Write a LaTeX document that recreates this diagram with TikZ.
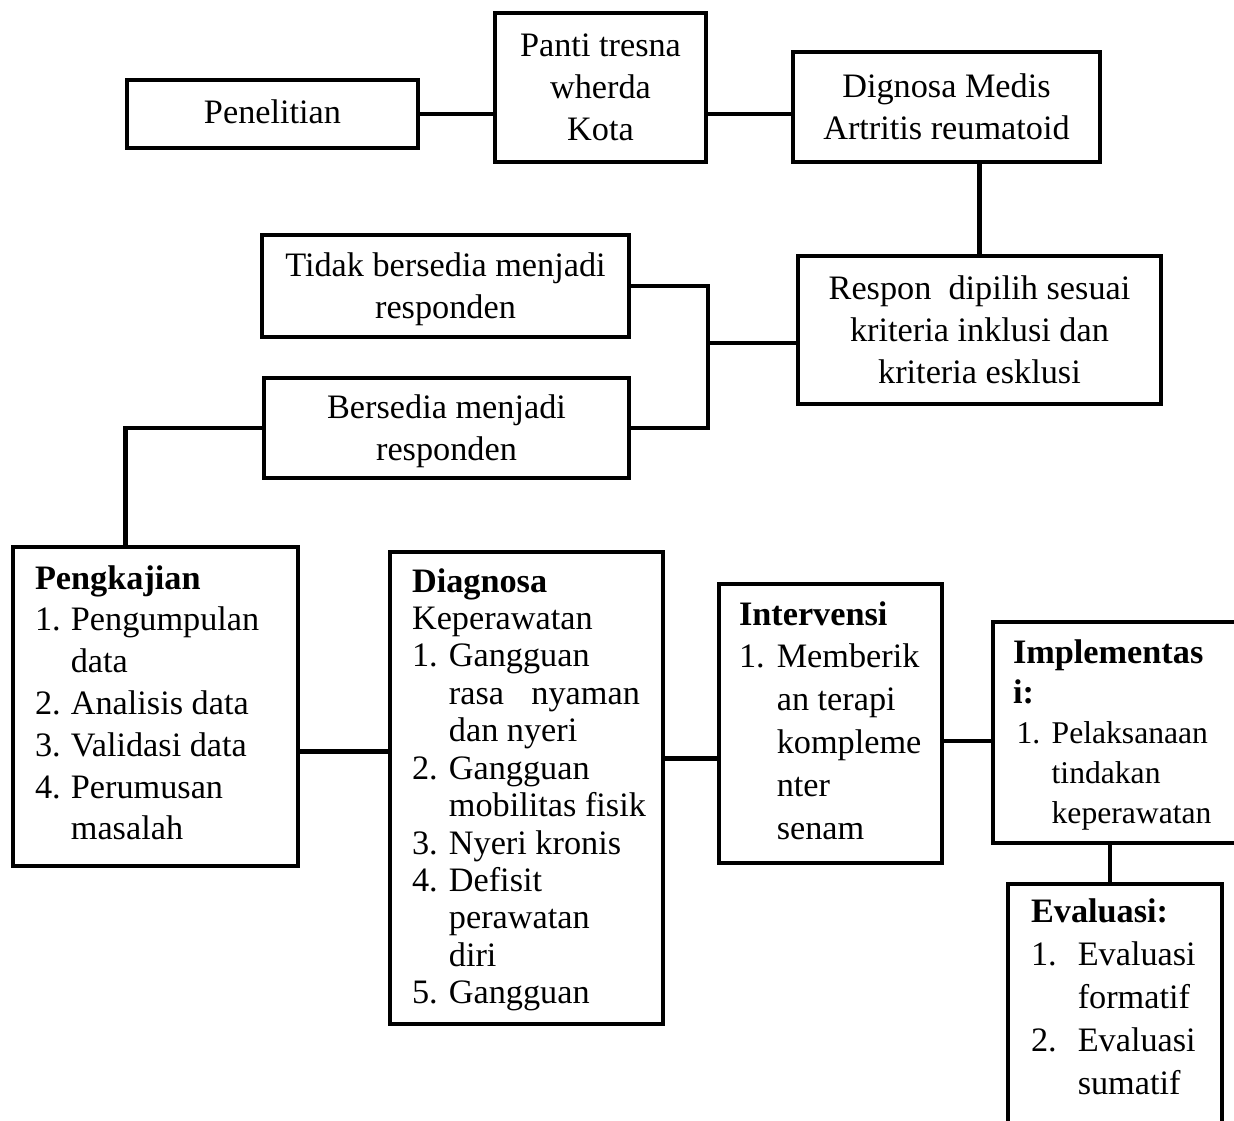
\documentclass[tikz,border=0pt]{standalone}
\usepackage{fontspec}
\setmainfont{Liberation Serif}

\newlength{\indenbutir}
\newcommand{\nomor}[1]{\makebox[\indenbutir][l]{#1}}
\newcommand{\lanjut}{\hspace*{\indenbutir}}
% tinggi, lebar, baris pertama, inden, isi
\newcommand{\isikotak}[5]{\parbox[c][#1][t]{#2}{\setlength{\indenbutir}{#4}\raggedright\rule{0pt}{#3}#5}}

\tikzset{
    kotak/.style={draw, line width=2.3pt, inner sep=0pt, align=center,
        font=\fontsize{19.5pt}{23.8pt}\selectfont},
    daftar/.style={draw, line width=2.3pt, inner ysep=0pt,
        font=\fontsize{19.5pt}{23.8pt}\selectfont},
    garis/.style={line width=2.3pt},
}

\begin{document}
\begin{tikzpicture}[x=0.02cm, y=-0.02cm]
    \useasboundingbox (0,0) rectangle (1234,1120);

    \node[kotak, minimum width=5.82cm, minimum height=1.36cm] (penelitian) at (272.5,114) {\raisebox{3pt}{Penelitian}};
    \node[kotak, minimum width=4.22cm, minimum height=2.98cm] (panti) at (600.5,87.5) {Panti tresna\\wherda\\Kota};
    \node[kotak, minimum width=6.14cm, minimum height=2.2cm] (medis) at (946.5,107) {Dignosa Medis\\Artritis reumatoid};
    \node[kotak, minimum width=7.26cm, minimum height=2.96cm] (respon) at (979.5,330) {Respon\ \ dipilih sesuai\\kriteria inklusi dan\\kriteria esklusi};
    \node[kotak, minimum width=7.34cm, minimum height=2.04cm, text depth=0pt] (tidak) at (445.5,286) {Tidak bersedia menjadi\\responden};
    \node[kotak, minimum width=7.3cm, minimum height=2cm, text depth=0pt] (bersedia) at (446.5,428) {Bersedia menjadi\\responden};

    \node[daftar, inner xsep=0.44cm] (pengkajian) at (155.5,706.5)
        {\isikotak{6.38cm}{4.82cm}{0.84cm}{20.4pt}{%
            \textbf{Pengkajian}\\
            \nomor{1.}Pengumpulan\\
            \lanjut data\\
            \nomor{2.}Analisis data\\
            \nomor{3.}Validasi data\\
            \nomor{4.}Perumusan\\
            \lanjut masalah}};
    \node[daftar, inner xsep=0.44cm, font=\fontsize{19.5pt}{21.3pt}\selectfont] (diagnosa) at (526.5,788)
        {\isikotak{9.44cm}{4.58cm}{0.8cm}{21pt}{%
            \textbf{Diagnosa}\\
            Keperawatan\\
            \nomor{1.}Gangguan\\
            \lanjut\mbox{rasa\hspace{0.8em}nyaman}\\
            \lanjut dan nyeri\\
            \nomor{2.}Gangguan\\
            \lanjut\mbox{mobilitas fisik}\\
            \nomor{3.}Nyeri kronis\\
            \nomor{4.}Defisit\\
            \lanjut perawatan\\
            \lanjut diri\\
            \nomor{5.}Gangguan}};
    \node[daftar, inner xsep=0.4cm, font=\fontsize{19.5pt}{24.4pt}\selectfont] (intervensi) at (830.5,723.5)
        {\isikotak{5.58cm}{3.66cm}{0.82cm}{21.5pt}{%
            \textbf{Intervensi}\\
            \nomor{1.}Memberik\\
            \lanjut an terapi\\
            \lanjut\mbox{kompleme}\\
            \lanjut nter\\
            \lanjut senam}};
    \node[daftar, inner xsep=0.4cm, font=\fontsize{19.5pt}{22.8pt}\selectfont] (implementasi) at (1116.5,732.5)
        {\isikotak{4.42cm}{4.14cm}{0.82cm}{20pt}{%
            \textbf{Implementas}\\
            \textbf{i:}\\
            {\fontsize{18pt}{22.8pt}\selectfont
            \hspace*{2pt}\nomor{1.}Pelaksanaan\\
            \hspace*{2pt}\lanjut tindakan\\
            \hspace*{2pt}\lanjut keperawatan}}};
    \node[daftar, inner xsep=0.46cm, font=\fontsize{19.5pt}{24.6pt}\selectfont] (evaluasi) at (1115,1012)
        {\isikotak{5.12cm}{3.36cm}{0.76cm}{26.6pt}{%
            \textbf{Evaluasi:}\\
            \nomor{1.}Evaluasi\\
            \lanjut formatif\\
            \nomor{2.}Evaluasi\\
            \lanjut sumatif}};

    % penghubung
    \draw[garis] (penelitian.east) -- (penelitian.east -| panti.west);
    \draw[garis] (panti.east |- penelitian.east) -- (medis.west |- penelitian.east);
    \draw[garis] (respon.north) -- (respon.north |- medis.south);
    \coordinate (cabang) at (708,343);
    \draw[garis] (tidak.east) -| (cabang) |- (bersedia.east);
    \draw[garis] (cabang) -- (cabang -| respon.west);
    \draw[garis] (bersedia.west) -| ([xshift=-0.6cm]pengkajian.north);
    \coordinate (k1) at ([yshift=-0.9cm]pengkajian.east);
    \draw[garis] (k1) -- (k1 -| diagnosa.west);
    \coordinate (k2) at ([yshift=-0.7cm]intervensi.west);
    \draw[garis] (k2) -- (k2 -| diagnosa.east);
    \coordinate (k3) at ([yshift=-0.35cm]intervensi.east);
    \draw[garis] (k3) -- (k3 -| implementasi.west);
    \coordinate (k4) at ([xshift=-0.1cm]evaluasi.north);
    \draw[garis] (k4) -- (k4 |- implementasi.south);
\end{tikzpicture}
\end{document}
